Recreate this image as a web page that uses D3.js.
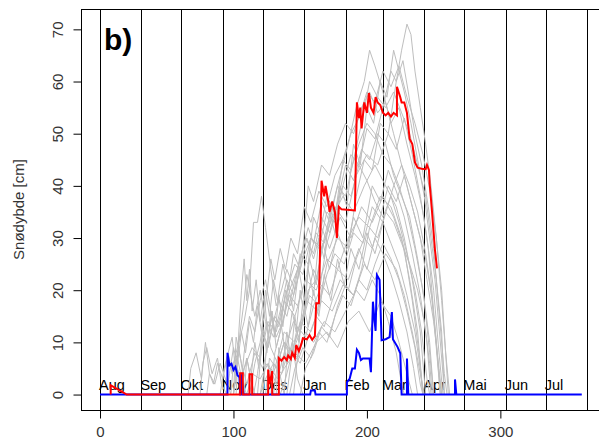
<!DOCTYPE html>
<html>
<head>
<meta charset="utf-8">
<script src="https://cdn.jsdelivr.net/npm/d3@7"></script>
<style>
  body { margin: 0; background: #fff; }
  text { font-family: "Liberation Sans", Arial, sans-serif; }
</style>
</head>
<body>
<svg class="chart" width="599" height="441"></svg>
<script>
// snow depth per season, day 0 = 1 Aug

var monthNames = ["Aug", "Sep", "Okt", "Nov", "Des", "Jan", "Feb", "Mar", "Apr", "Mai", "Jun", "Jul"];
var monthStarts = [0, 31, 61, 92, 122, 153, 184, 212, 243, 273, 304, 334, 365];
var xTicks = [0, 100, 200, 300];
var yTicks = [0, 10, 20, 30, 40, 50, 60, 70];

// red season [day, cm]
var redSeason = [[8,0],[8,1.8],[12,1.2],[16,0.6],[20,0],[105,0],[105,4.1],[107,4.1],[107,0],[112,0],[112,3.9],[114,3.9],[114,0],
  [126,0],[126,4.8],[127,2],[129,4.5],[129,0],[134,0],[134,7],[136,6.5],[138,7.2],[140,6.6],[141,7.5],[143,6.8],[144,8],
  [146,7],[147,9.5],[149,8.3],[151,9.8],[152,10.8],[155,10.6],[157,11.4],[159,10.5],[161,11.2],[162,17.5],[164,17.5],
  [166,41],[168,38],[169,40],[171,37],[172,35],[174,37],[176,35],[177.5,30],[179,36],[181,35.5],[191,35.3],
  [192.5,56],[194,53],[195,55],[196,51],[198,56],[200,54],[201.5,57.8],[203,55],[205,54],[206.5,57],[208,56],[210,55.5],
  [212,54],[214,53.5],[216,54],[218,53.3],[220,54],[222.5,53.5],[222.5,59],[225,57],[226,56],[228,56],[230,54],
  [232,49],[234,48],[236,44.5],[238,43.5],[241,43.3],[244,43.2],[245,44],[246.5,43],[247,40.5],[248.7,35.3],[251,27.7],[252.5,24.2]];

// blue season [day, cm]
var blueSeason = [[0,0],[95.5,0],[95.5,8],[97,5.6],[98.5,5.9],[100,4.7],[101.5,5.3],[103,3.7],[104.5,3.3],[105,0],
  [106,0],[106,3.9],[107.5,0],[157.5,0],[158,0.8],[161,0.8],[161.5,0],[185,0],[185,2.4],[187,3],[189,5],[191,5],
  [192.5,8.6],[194,8],[195.5,6.6],[197,6.9],[202,6.9],[203,4.3],[204.5,17.8],[205.5,14.8],[206.5,12.2],[207.5,22.9],
  [209.5,22],[211,10.4],[214,10.6],[217,11],[218.7,15.8],[219.5,10.6],[223,9.1],[225,7.9],[226,0],[230,0],[230,6.9],
  [231,0],[266,0],[266,2.9],[267,0],[361,0]];

// other seasons (grey)
var g1 = [[120,0],[124,6],[130,4],[138,12],[146,10],[155,18],[163,16],[170,25],[178,30],[186,28],[192,38],[198,45],[204,43],[210,52],[216,50],[222,60],[226,66],[230,71],[233,69],[236,62],[240,55],[244,48],[248,40],[252,30],[256,18],[259,8],[262,0]];
var g2 = [[140,0],[144,8],[150,12],[156,20],[162,22],[168,30],[174,36],[180,42],[186,48],[192,55],[198,60],[202,66],[206,63],[212,58],[218,52],[224,55],[230,48],[236,42],[242,35],[246,28],[250,16],[254,4],[256,0]];
var g3 = [[98,0],[100,6],[104,10],[108,14],[112,20],[115,33],[118,33],[121,38],[124,32],[128,24],[132,17],[136,20],[140,24],[146,20],[152,26],[158,30],[166,28],[174,34],[182,38],[190,35],[198,40],[206,44],[214,40],[222,36],[228,30],[234,22],[240,12],[244,0]];
var g4 = [[66,0],[68,5],[72,8],[76,3],[79,10],[82,4],[86,2],[90,6],[94,3],[98,0],[104,0],[108,5],[114,9],[120,7],[126,14],[132,12],[138,18],[146,15],[154,22],[162,20],[170,26],[178,24],[186,30],[194,34],[202,32],[210,38],[218,36],[226,30],[232,22],[238,12],[242,0]];
var g5 = [[100,0],[102,11],[106,6],[110,2],[116,8],[122,5],[128,12],[134,18],[140,15],[146,22],[152,28],[156,40],[160,37],[166,44],[172,42],[178,48],[184,52],[190,50],[196,55],[202,58],[208,54],[214,56],[220,50],[226,44],[232,40],[238,35],[244,27],[248,20],[252,10],[255,0]];
var g6 = [[110,0],[114,4],[120,3],[126,6],[132,2],[138,5],[146,8],[154,6],[162,10],[170,12],[178,9],[186,14],[194,16],[202,12],[210,18],[218,15],[224,10],[230,4],[234,0]];
var g7 = [[118,0],[121,9],[125,14],[130,11],[135,16],[140,22],[145,19],[150,27],[156,25],[162,31],[168,29],[176,36],[184,33],[192,42],[200,46],[208,44],[216,50],[222,47],[228,53],[234,46],[240,38],[245,30],[250,20],[254,8],[257,0]];
var g8 = [[125,0],[128,5],[133,3],[139,9],[145,14],[150,12],[157,19],[164,17],[170,23],[176,27],[183,25],[190,31],[197,29],[204,36],[212,33],[220,40],[226,44],[232,38],[238,32],[244,26],[249,18],[253,6],[255,0]];
var g9 = [[105,0],[108,8],[112,15],[116,12],[120,18],[124,22],[128,16],[132,11],[137,14],[142,20],[148,24],[154,30],[160,27],[166,34],[172,31],[178,37],[184,44],[190,41],[196,47],[202,45],[208,50],[214,48],[220,42],[226,38],[232,34],[238,26],[243,18],[247,8],[250,0]];
var g10 = [[130,0],[133,6],[138,10],[143,7],[148,13],[154,11],[160,17],[166,21],[172,19],[178,24],[186,22],[194,28],[200,24],[206,30],[212,27],[218,23],[224,18],[230,12],[235,5],[238,0]];
var g11 = [[115,0],[118,4],[122,12],[126,9],[131,15],[136,13],[142,19],[148,17],[155,23],[160,34],[165,31],[170,38],[176,35],[182,40],[188,46],[194,44],[200,51],[206,49],[212,55],[218,62],[222,60],[227,64],[231,58],[236,50],[241,44],[246,36],[250,28],[254,16],[258,4],[260,0]];
var g12 = [[90,0],[93,5],[96,8],[99,4],[103,7],[107,2],[110,0],[124,0],[127,7],[132,5],[138,10],[144,8],[150,14],[158,12],[166,18],[174,16],[182,21],[190,19],[198,25],[206,22],[214,27],[222,24],[228,19],[234,12],[240,4],[243,0]];
var g13 = [[122,0],[125,10],[129,15],[134,13],[140,20],[146,25],[152,23],[158,30],[164,28],[170,35],[176,33],[182,40],[188,38],[194,44],[200,41],[206,37],[212,34],[218,38],[224,33],[230,27],[236,20],[241,12],[245,3],[247,0]];
var g14 = [[135,0],[139,3],[144,8],[150,6],[156,11],[162,15],[168,13],[174,18],[180,22],[186,20],[192,26],[198,30],[204,28],[210,34],[216,40],[222,37],[228,42],[234,36],[240,30],[245,22],[250,14],[254,5],[256,0]];
var g15 = [[142,0],[146,5],[152,9],[158,7],[164,12],[170,10],[176,15],[182,19],[188,17],[194,22],[200,20],[206,25],[212,29],[218,26],[224,22],[230,16],[236,9],[240,2],[242,0]];
var g16 = [[112,0],[116,6],[120,10],[124,17],[128,26],[131,22],[135,28],[139,24],[143,30],[148,27],[153,36],[158,33],[164,39],[170,36],[176,42],[182,45],[188,43],[194,48],[200,52],[206,50],[212,46],[218,44],[224,40],[230,35],[236,28],[242,20],[247,10],[250,0]];
var g17 = [[145,0],[150,12],[155,18],[160,24],[165,21],[170,29],[176,34],[182,45],[188,50],[194,53],[200,58],[206,56],[212,62],[218,59],[224,63],[230,57],[236,52],[242,46],[248,38],[252,30],[256,20],[259,8],[261,0]];
var g18 = [[75,0],[77,6],[80,9],[84,4],[88,7],[91,2],[95,0],[100,0],[103,5],[106,2],[109,0]];
var g19 = [[100,0],[104,10],[108,18],[110,23],[113,19],[116,15],[120,20],[124,14],[128,9],[133,6],[138,0]];
var g20 = [[120,0],[124,3],[130,6],[136,4],[142,9],[148,7],[154,12],[160,10],[168,14],[176,12],[184,16],[192,20],[198,18],[204,22],[210,19],[216,14],[222,8],[226,2],[228,0]];
var g21 = [[150,0],[154,5],[160,8],[166,13],[172,11],[178,17],[184,21],[190,19],[196,24],[202,32],[208,30],[214,35],[220,33],[226,29],[232,25],[238,20],[243,14],[247,6],[249,0]];
var g22 = [[128,0],[131,8],[135,12],[139,20],[143,17],[148,22],[152,28],[156,32],[160,29],[166,37],[172,33],[178,40],[184,38],[190,45],[196,52],[202,60],[208,57],[214,55],[220,58],[226,54],[232,50],[238,44],[244,38],[248,30],[252,22],[256,12],[258,0]];
var g23 = [[95,0],[97,4],[100,9],[103,6],[106,12],[109,8],[112,14],[115,10],[118,17],[121,12],[124,20],[127,15],[130,22],[133,18],[137,25],[141,20],[145,27],[150,24],[155,30],[160,26],[166,32],[172,28],[180,34],[188,30],[196,36],[204,33],[212,38],[220,34],[228,28],[234,18],[239,8],[242,0]];
var g24 = [[108,0],[110,7],[113,3],[116,10],[119,5],[122,13],[125,8],[128,16],[131,11],[134,19],[137,13],[141,21],[145,16],[149,24],[153,18],[157,26],[162,21],[167,29],[172,24],[178,31],[184,27],[190,34],[197,30],[204,40],[210,37],[216,43],[222,39],[228,34],[234,27],[240,19],[245,10],[248,0]];
var g25 = [[132,0],[134,9],[137,5],[140,12],[143,7],[146,15],[149,10],[152,18],[156,13],[160,20],[164,15],[168,23],[173,18],[178,26],[183,21],[188,28],[194,24],[200,31],[206,27],[212,33],[218,29],[224,25],[230,19],[236,12],[240,5],[242,0]];
var g26 = [[102,0],[104,12],[106,20],[108,26],[110,18],[112,24],[114,16],[117,22],[120,14],[123,19],[126,11],[129,16],[132,9],[136,13],[140,6],[144,10],[148,3],[152,0]];
var g27 = [[138,0],[141,10],[144,16],[147,12],[150,20],[153,15],[156,24],[160,19],[164,30],[168,26],[172,35],[176,31],[180,40],[185,36],[190,48],[195,44],[200,55],[205,52],[210,60],[215,57],[220,66],[224,62],[228,58],[233,52],[238,45],[243,38],[247,30],[251,22],[254,13],[257,4],[258,0]];
var g28 = [[80,0],[82,4],[85,2],[88,6],[92,3],[96,8],[99,11],[101,6],[104,9],[107,4],[110,7],[113,3],[116,0]];
var greySeasons = [g1, g2, g3, g4, g5, g6, g7, g8, g9, g10, g11, g12, g13, g14,
  g15, g16, g17, g18, g19, g20, g21, g22, g23, g24, g25, g26, g27, g28];

// plot region (box runs past the right edge of the window)
var pLeft = 81, pTop = 9, pBottom = 410, pRight = 606.6;

var x = d3.scaleLinear().domain([-14.25, 379.6]).range([pLeft, pRight]);
var y = d3.scaleLinear().domain([-2.96, 73.9]).range([pBottom, pTop]);

var svg = d3.select(".chart");

var line = d3.line()
    .x(function(d) { return x(d[0]); })
    .y(function(d) { return y(d[1]); });

// month dividers
svg.selectAll(".month")
    .data(monthStarts)
  .enter().append("line")
    .attr("x1", function(d) { return Math.round(x(d)) + 0.5; })
    .attr("x2", function(d) { return Math.round(x(d)) + 0.5; })
    .attr("y1", pTop)
    .attr("y2", pBottom)
    .attr("stroke", "#000")
    .attr("stroke-width", 1);

// month labels
svg.selectAll(".mlab")
    .data(monthNames)
  .enter().append("text")
    .attr("x", function(d, i) { return x(monthStarts[i]) - 1; })
    .attr("y", 390)
    .attr("font-size", 14.5)
    .attr("fill", "#000")
    .text(function(d) { return d; });

// grey seasons
svg.selectAll(".grey")
    .data(greySeasons)
  .enter().append("path")
    .attr("d", line)
    .attr("fill", "none")
    .attr("stroke", "#bebebe")
    .attr("stroke-width", 1);

svg.append("path")
    .datum(blueSeason)
    .attr("d", line)
    .attr("fill", "none")
    .attr("stroke", "#0000ff")
    .attr("stroke-width", 2);

svg.append("path")
    .datum(redSeason)
    .attr("d", line)
    .attr("fill", "none")
    .attr("stroke", "#ff0000")
    .attr("stroke-width", 2);

// plot box
svg.append("rect")
    .attr("x", pLeft + 0.5)
    .attr("y", pTop + 0.5)
    .attr("width", pRight - pLeft)
    .attr("height", pBottom - pTop)
    .attr("fill", "none")
    .attr("stroke", "#000");

// axes
var yAxis = svg.append("g")
    .attr("transform", "translate(" + (pLeft + 0.5) + ",0)")
    .call(d3.axisLeft(y).tickValues(yTicks).tickSize(8).tickFormat(d3.format("d")));
yAxis.select(".domain").remove();
yAxis.selectAll("text")
    .attr("font-size", 15)
    .attr("font-family", "Liberation Sans, Arial, sans-serif")
    .attr("fill", "#333")
    .attr("x", null).attr("dy", null)
    .attr("text-anchor", "middle")
    .attr("transform", "translate(-19,0) rotate(-90)");

var xAxis = svg.append("g")
    .attr("transform", "translate(0," + (pBottom + 0.5) + ")")
    .call(d3.axisBottom(x).tickValues(xTicks).tickSize(8).tickFormat(d3.format("d")));
xAxis.select(".domain").remove();
xAxis.selectAll("text")
    .attr("font-size", 15)
    .attr("font-family", "Liberation Sans, Arial, sans-serif")
    .attr("fill", "#333")
    .attr("y", 26.5).attr("dy", null);

// y title
svg.append("text")
    .attr("transform", "translate(24,209.5) rotate(-90)")
    .attr("text-anchor", "middle")
    .attr("font-size", 15)
    .attr("fill", "#333")
    .text("Snødybde [cm]");

// panel letter
svg.append("text")
    .attr("x", 104)
    .attr("y", 50)
    .attr("font-size", 30)
    .attr("font-weight", "bold")
    .attr("fill", "#000")
    .text("b)");
</script>
</body>
</html>
